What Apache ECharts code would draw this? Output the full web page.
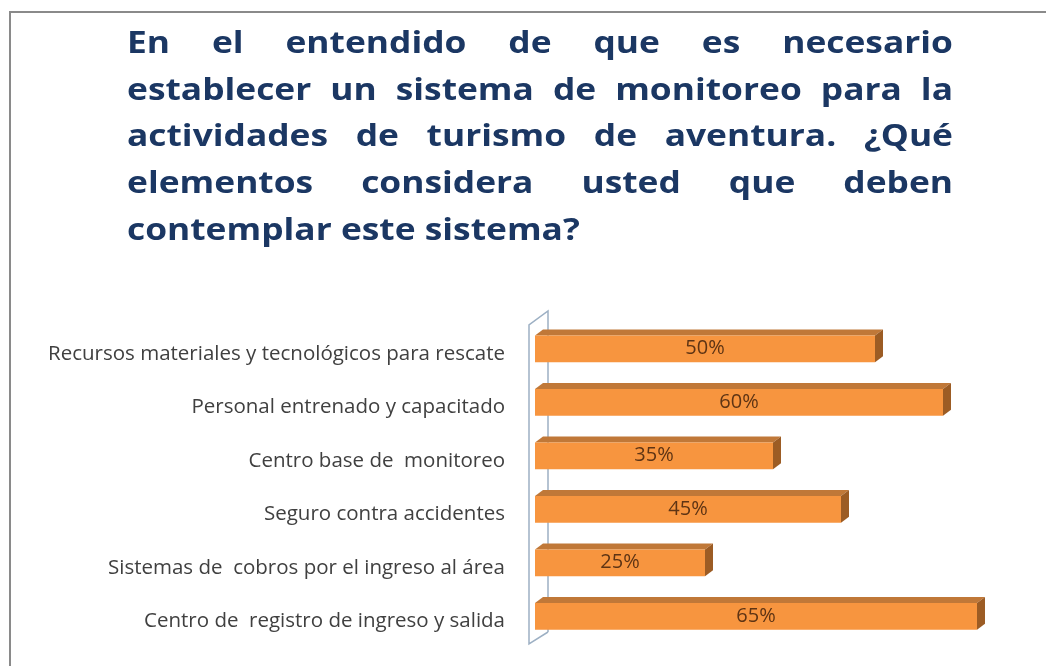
<!DOCTYPE html>
<html><head><meta charset="utf-8">
<script src="https://cdn.jsdelivr.net/npm/echarts@6/dist/echarts.min.js"></script>
<style>html,body{margin:0;padding:0;background:#fff}#c{width:1046px;height:666px}</style>
</head><body><div id="c"></div>
<script>
const titleLines = [
  "En el entendido de que es necesario",
  "establecer un sistema de monitoreo para la",
  "actividades de turismo de aventura. ¿Qué",
  "elementos considera usted que deben",
  "contemplar este sistema?"
];
const categories = [
  "Recursos materiales y tecnológicos para rescate",
  "Personal entrenado y capacitado",
  "Centro base de  monitoreo",
  "Seguro contra accidentes",
  "Sistemas de  cobros por el ingreso al área",
  "Centro de  registro de ingreso y salida"
];
const values = [50, 60, 35, 45, 25, 65];

const TITLE_FONT_SIZE = 31;
const TITLE_SCALE_X = 1.14;
const TITLE_FONT = 'bold ' + TITLE_FONT_SIZE + 'px "Open Sans"';
const TITLE_COLOR = '#1b3763';
const TX0 = 127, TX1 = 953;
const baselines = [55, 102, 148, 195, 242];

const cv = document.createElement('canvas').getContext('2d');
cv.font = TITLE_FONT;
const titleGraphics = [];
function titleText(str, x, y) {
  return {type:'text', x: x, y: y, scaleX: TITLE_SCALE_X, style:{text: str, font: TITLE_FONT, fill: TITLE_COLOR, align:'left', verticalAlign:'middle'}};
}
titleLines.forEach((line, li) => {
  const words = line.split(/\s+/);
  const y = baselines[li] - 11;
  if (li === titleLines.length - 1) {
    titleGraphics.push(titleText(line, TX0, y));
    return;
  }
  const widths = words.map(w => cv.measureText(w).width * TITLE_SCALE_X);
  const total = widths.reduce((a,b)=>a+b,0);
  const gap = (TX1 - TX0 - total) / (words.length - 1);
  let x = TX0;
  words.forEach((w, i) => {
    titleGraphics.push(titleText(w, x, y));
    x += widths[i] + gap;
  });
});

const chart = echarts.init(document.getElementById('c'), null, {renderer:'canvas'});
const DX = 8, DY = -6;
chart.setOption({
  animation: false,
  backgroundColor: '#ffffff',
  graphic: [
    {type:'rect', shape:{x:10, y:12, width:1100, height:700}, style:{fill:'none', stroke:'#8a8a8a', lineWidth:2}, z:0}
  ].concat(titleGraphics),
  grid: {left: 535, right: 35, top: 321, bottom: 24},
  xAxis: {type:'value', min:0, max:70, show:false},
  yAxis: {
    type:'category', data: categories, inverse:true,
    axisLine:{show:false}, axisTick:{show:false}, splitLine:{show:false},
    axisLabel:{
      margin:30,
      formatter: v => '{a|' + v + '}',
      rich: {a: {color:'#404040', fontFamily:'Open Sans', fontSize:20.5, padding:[12,0,0,0]}}
    }
  },
  series: [
    {
      type:'custom', silent:true, z:1,
      data:[[0,0]],
      renderItem(params, api){
        const cs = params.coordSys;
        const gx = cs.x, gy = cs.y, gb = cs.y + cs.height;
        return {type:'polyline', shape:{points:[
          [gx+13, gb-10], [gx-6, gb+2], [gx-6, gy+4], [gx+13, gy-10], [gx+13, gb-10]
        ]}, style:{fill:'none', stroke:'#9db0c4', lineWidth:1.5}};
      }
    },
    {
      type:'custom', z:2,
      data: values.map((v,i)=>[v, i]),
      encode:{x:0, y:1},
      renderItem(params, api){
        const v = api.value(0), idx = api.value(1);
        const p0 = api.coord([0, idx]);
        const p1 = api.coord([v, idx]);
        const band = api.size([0, 1])[1];
        const h = band * 0.5;
        const x0 = p0[0], x1 = p1[0];
        const yT = p0[1] - h/2 + 1, yB = p0[1] + h/2 + 1;
        return {type:'group', children:[
          {type:'polygon', shape:{points:[[x0,yT],[x0+DX,yT+DY],[x1+DX,yT+DY],[x1,yT]]}, style:{fill:'#c07838'}},
          {type:'polygon', shape:{points:[[x1,yT],[x1+DX,yT+DY],[x1+DX,yB+DY],[x1,yB]]}, style:{fill:'#9c5c24'}},
          {type:'rect', shape:{x:x0, y:yT, width:x1-x0, height:yB-yT}, style:{fill:'#f7953f'}},
          {type:'text', x:(x0+x1)/2, y:(yT+yB)/2, style:{text: v + '%', fill:'#5e3414', font:'20px "Open Sans"', align:'center', verticalAlign:'middle'}}
        ]};
      }
    }
  ]
});
</script></body></html>
